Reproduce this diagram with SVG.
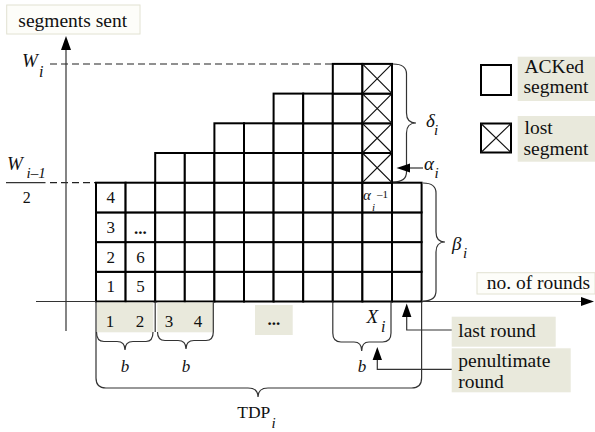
<svg xmlns="http://www.w3.org/2000/svg" xmlns:xlink="http://www.w3.org/1999/xlink" width="595" height="432" viewBox="0 0 595 432">
  <style>
    .t { font-family: "Liberation Serif", "Times New Roman", serif; fill: #111; }
    .lbl { font-size: 19.5px; }
    .num { font-size: 17px; text-anchor: middle; }
    .it { font-style: italic; }
    .cellbox { fill: #fff; stroke: #000; stroke-width: 2; }
    .xline { fill: none; stroke: #111; stroke-width: 1.2; }
    .thin { fill: none; stroke: #333; stroke-width: 1.2; }
    .dash { fill: none; stroke: #222; stroke-width: 1.2; stroke-dasharray: 7 4; }
    .beige { fill: #e9e9dc; }
    .plain { fill: #fdfdf9; stroke: #e2e2d2; stroke-width: 1; }
    .head { fill: #000; }
  </style>
  <defs>
    <rect id="cell" class="cellbox" width="29.6" height="29.7"/>
    <g id="lost">
      <rect class="cellbox" width="29.6" height="29.7"/>
      <path class="xline" d="M0,0 L29.6,29.7 M29.6,0 L0,29.7"/>
    </g>
  </defs>

  <!-- axis labels -->
  <g id="label-segments-sent">
    <rect class="plain" x="6.7" y="5" width="133.3" height="29"/>
    <text class="t lbl" x="18.3" y="26.5">segments sent</text>
  </g>
  <g id="label-rounds">
    <rect class="plain" x="477" y="272.7" width="118" height="21.3"/>
    <text class="t lbl" x="486.7" y="289.3">no. of rounds</text>
  </g>

  <!-- level markers on the vertical axis -->
  <g id="level-w">
    <path class="dash" d="M50,64 H332.8"/>
    <text class="t it" font-size="19" x="22" y="66.7">W</text>
    <text class="t it" font-size="16" x="39" y="77">i</text>
  </g>
  <g id="level-half">
    <path class="dash" d="M50,182.7 H96"/>
    <text class="t it" font-size="19" x="7" y="170">W</text>
    <text class="t it" font-size="15" x="26.5" y="178">i–1</text>
    <path class="thin" d="M6,182.7 H45.5" stroke="#111"/>
    <text class="t" font-size="16" x="22.7" y="203.3">2</text>
  </g>

  <!-- segment grid -->
  <g id="grid">
    <!-- rounds 1..4 rows -->
    <use xlink:href="#cell" x="96" y="271.8"/><use xlink:href="#cell" x="125.6" y="271.8"/><use xlink:href="#cell" x="155.2" y="271.8"/><use xlink:href="#cell" x="184.8" y="271.8"/><use xlink:href="#cell" x="214.4" y="271.8"/><use xlink:href="#cell" x="244" y="271.8"/><use xlink:href="#cell" x="273.6" y="271.8"/><use xlink:href="#cell" x="303.2" y="271.8"/><use xlink:href="#cell" x="332.8" y="271.8"/><use xlink:href="#cell" x="362.4" y="271.8"/><use xlink:href="#cell" x="392" y="271.8"/>
    <use xlink:href="#cell" x="96" y="242.1"/><use xlink:href="#cell" x="125.6" y="242.1"/><use xlink:href="#cell" x="155.2" y="242.1"/><use xlink:href="#cell" x="184.8" y="242.1"/><use xlink:href="#cell" x="214.4" y="242.1"/><use xlink:href="#cell" x="244" y="242.1"/><use xlink:href="#cell" x="273.6" y="242.1"/><use xlink:href="#cell" x="303.2" y="242.1"/><use xlink:href="#cell" x="332.8" y="242.1"/><use xlink:href="#cell" x="362.4" y="242.1"/><use xlink:href="#cell" x="392" y="242.1"/>
    <use xlink:href="#cell" x="96" y="212.4"/><use xlink:href="#cell" x="125.6" y="212.4"/><use xlink:href="#cell" x="155.2" y="212.4"/><use xlink:href="#cell" x="184.8" y="212.4"/><use xlink:href="#cell" x="214.4" y="212.4"/><use xlink:href="#cell" x="244" y="212.4"/><use xlink:href="#cell" x="273.6" y="212.4"/><use xlink:href="#cell" x="303.2" y="212.4"/><use xlink:href="#cell" x="332.8" y="212.4"/><use xlink:href="#cell" x="362.4" y="212.4"/><use xlink:href="#cell" x="392" y="212.4"/>
    <use xlink:href="#cell" x="96" y="182.7"/><use xlink:href="#cell" x="125.6" y="182.7"/><use xlink:href="#cell" x="155.2" y="182.7"/><use xlink:href="#cell" x="184.8" y="182.7"/><use xlink:href="#cell" x="214.4" y="182.7"/><use xlink:href="#cell" x="244" y="182.7"/><use xlink:href="#cell" x="273.6" y="182.7"/><use xlink:href="#cell" x="303.2" y="182.7"/><use xlink:href="#cell" x="332.8" y="182.7"/><use xlink:href="#cell" x="362.4" y="182.7"/><use xlink:href="#cell" x="392" y="182.7"/>
    <!-- staircase -->
    <use xlink:href="#cell" x="155.2" y="153"/><use xlink:href="#cell" x="184.8" y="153"/><use xlink:href="#cell" x="214.4" y="153"/><use xlink:href="#cell" x="244" y="153"/><use xlink:href="#cell" x="273.6" y="153"/><use xlink:href="#cell" x="303.2" y="153"/><use xlink:href="#cell" x="332.8" y="153"/>
    <use xlink:href="#cell" x="214.4" y="123.3"/><use xlink:href="#cell" x="244" y="123.3"/><use xlink:href="#cell" x="273.6" y="123.3"/><use xlink:href="#cell" x="303.2" y="123.3"/><use xlink:href="#cell" x="332.8" y="123.3"/>
    <use xlink:href="#cell" x="273.6" y="93.6"/><use xlink:href="#cell" x="303.2" y="93.6"/><use xlink:href="#cell" x="332.8" y="93.6"/>
    <use xlink:href="#cell" x="332.8" y="63.9"/>
    <!-- lost segments -->
    <use xlink:href="#lost" x="362.4" y="153"/>
    <use xlink:href="#lost" x="362.4" y="123.3"/>
    <use xlink:href="#lost" x="362.4" y="93.6"/>
    <use xlink:href="#lost" x="362.4" y="63.9"/>
    <!-- numbering -->
    <text class="t num" x="110.8" y="203.4">4</text>
    <text class="t num" x="110.8" y="233">3</text>
    <text class="t num" x="110.8" y="262.8">2</text>
    <text class="t num" x="110.8" y="292.3">1</text>
    <text class="t num" font-weight="bold" font-size="15" x="140.4" y="234">...</text>
    <text class="t num" x="140.4" y="262.8">6</text>
    <text class="t num" x="140.4" y="292.3">5</text>
    <text class="t it" font-size="15" x="363" y="199.5">α</text>
    <text class="t it" font-size="11" x="372" y="210.5">i</text>
    <text class="t" font-size="11" x="377" y="197.5">–1</text>
  </g>

  <!-- axes -->
  <g id="axes">
    <path class="thin" d="M66,331 V48"/>
    <polygon class="head" points="66,36 61,50 71,50"/>
    <path class="thin" d="M36,301.5 H96 M421.6,301.5 H583"/>
    <polygon class="head" points="594,301.5 581,297 581,306"/>
  </g>

  <!-- round numbering below the axis -->
  <g id="rounds-1-2">
    <rect class="beige" x="96.7" y="302.5" width="56.6" height="29.8"/>
    <text class="t num" x="110" y="326.5">1</text>
    <text class="t num" x="140" y="326.5">2</text>
  </g>
  <g id="rounds-3-4">
    <rect class="beige" x="157.3" y="302.5" width="56" height="29.8"/>
    <text class="t num" x="169" y="326.5">3</text>
    <text class="t num" x="198" y="326.5">4</text>
  </g>
  <g id="rounds-more">
    <rect class="beige" x="255" y="305" width="37.7" height="30"/>
    <text class="t num" font-weight="bold" font-size="15" x="273.8" y="325">...</text>
  </g>

  <!-- braces and pointers -->
  <g id="connectors">
    <path class="thin" d="M155.2,301.5 V332 M213.3,301.5 V332"/>
    <path class="thin" d="M96.5,332 Q96.5,341.5 104,341.5 H117 Q125,341.5 125,350 Q125,341.5 133,341.5 H146 Q153,341.5 153,332"/>
    <path class="thin" d="M157.5,332 Q157.5,340.5 165,340.5 H178 Q186,340.5 186,349 Q186,340.5 194,340.5 H206 Q213.3,340.5 213.3,332"/>
    <path class="thin" d="M332.8,301.5 V333 Q332.8,342 341,342 H354 Q361.7,342 361.7,351 Q361.7,342 369,342 H382.5 Q391,342 391,333 V301.5"/>
    <path class="thin" d="M96,302 V378 Q96,388 106,388 H248 Q258,388 258,397 Q258,388 268,388 H411.6 Q421.6,388 421.6,378 V302"/>
    <path class="thin" d="M393,64 Q406.5,64 406.5,74 V113 Q406.5,123 416,123 Q406.5,123 406.5,133 V172 Q406.5,182 393,182"/>
    <path class="thin" d="M423,183 Q436,183 436,193 V232 Q436,242 445,242 Q436,242 436,252 V291 Q436,301 423,301"/>
    <path class="thin" d="M409,168 H423" stroke="#111"/>
    <polygon class="head" points="396.5,168 410,163.5 410,172.5"/>
    <path class="thin" d="M406.7,316 V330 H452" stroke="#111"/>
    <polygon class="head" points="406.7,303.5 402,317 411.4,317"/>
    <path class="thin" d="M377.3,359 V369.3 H452" stroke="#111"/>
    <polygon class="head" points="377.3,347 372.6,360 382,360"/>
  </g>

  <!-- brace labels -->
  <g id="label-b">
    <text class="t num it" x="125" y="371.5">b</text>
    <text class="t num it" x="186" y="371.5">b</text>
    <text class="t num it" x="362" y="371.5">b</text>
  </g>
  <g id="label-x">
    <text class="t it" font-size="19" x="366.5" y="323.3">X</text>
    <text class="t it" font-size="16" x="381" y="331.5">i</text>
  </g>
  <g id="label-tdp">
    <text class="t" font-size="17.5" x="237.3" y="418.3">TDP</text>
    <text class="t it" font-size="15" x="271.5" y="428">i</text>
  </g>
  <g id="label-delta">
    <text class="t it" font-size="19" x="426" y="127.3">δ</text>
    <text class="t it" font-size="15" x="434" y="135">i</text>
  </g>
  <g id="label-alpha">
    <text class="t it" font-size="19" x="424" y="169.5">α</text>
    <text class="t it" font-size="15" x="434.5" y="178">i</text>
  </g>
  <g id="label-beta">
    <text class="t it" font-size="19" x="452" y="250">β</text>
    <text class="t it" font-size="15" x="463" y="258">i</text>
  </g>

  <!-- legend -->
  <g id="legend-acked">
    <rect class="cellbox" x="481" y="65" width="30" height="30"/>
    <rect class="beige" x="517.7" y="56.7" width="77.3" height="44.3"/>
    <text class="t lbl" x="524.5" y="73.3">ACKed</text>
    <text class="t lbl" x="523.5" y="92.5">segment</text>
  </g>
  <g id="legend-lost">
    <rect class="cellbox" x="481" y="123.5" width="30" height="29"/>
    <path class="xline" d="M481,123.5 L511,152.5 M511,123.5 L481,152.5"/>
    <rect class="beige" x="517.7" y="116" width="77.3" height="45.7"/>
    <text class="t lbl" x="524.5" y="133.5">lost</text>
    <text class="t lbl" x="523.5" y="155">segment</text>
  </g>
  <g id="legend-last-round">
    <rect class="beige" x="451.7" y="316.7" width="104" height="30"/>
    <text class="t lbl" x="458.3" y="337.3">last round</text>
  </g>
  <g id="legend-penultimate">
    <rect class="beige" x="451.7" y="348.3" width="119" height="44"/>
    <text class="t lbl" x="458.3" y="366.7">penultimate</text>
    <text class="t lbl" x="458.3" y="387.5">round</text>
  </g>
</svg>
